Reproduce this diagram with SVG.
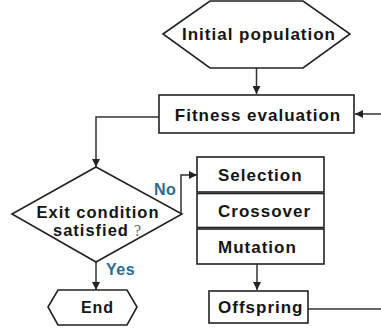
<svg xmlns="http://www.w3.org/2000/svg" width="381" height="330" viewBox="0 0 381 330">
<style>
.shape{fill:#fff;stroke:#222;stroke-width:1.6}
.lbl{font-family:"Liberation Sans",Arial,sans-serif;font-weight:bold;fill:#151515;letter-spacing:1px}
.conn{fill:none;stroke:#333;stroke-width:1.5}
.yn{font-family:"Liberation Sans",Arial,sans-serif;font-weight:bold;fill:#2a6c92;font-size:16px;letter-spacing:0.5px}
</style>
<defs>
<marker id="ah" viewBox="0 0 8 8" refX="8" refY="4" markerWidth="8" markerHeight="8" markerUnits="userSpaceOnUse" orient="auto">
<path d="M0,0 L8,4 L0,8 z" fill="#222"/>
</marker>
</defs>
<rect width="381" height="330" fill="#fff"/>
<g id="connectors">
<path class="conn" d="M256.5,68 V94" marker-end="url(#ah)"/>
<path class="conn" d="M381,114 H355" marker-end="url(#ah)"/>
<path class="conn" d="M159,117 H96 V167" marker-end="url(#ah)"/>
<path class="conn" d="M181,214 V175 H197" marker-end="url(#ah)"/>
<path class="conn" d="M96,262 V290" marker-end="url(#ah)"/>
<path class="conn" d="M257,264 V290" marker-end="url(#ah)"/>
<path class="conn" d="M308,309 H381"/>
</g>
<g id="initial">
<polygon class="shape" points="163,34 210,1 303,1 350,34 303,68 210,68"/>
<text class="lbl" x="259" y="40" font-size="17" text-anchor="middle">Initial population</text>
</g>
<g id="fitness">
<rect class="shape" x="159" y="95" width="195" height="38"/>
<text class="lbl" x="258" y="121" font-size="17" text-anchor="middle">Fitness evaluation</text>
</g>
<g id="exit">
<polygon class="shape" points="96,167 182,214 96,262 12,214"/>
<text class="lbl" x="98" y="218" font-size="16.5" text-anchor="middle">Exit condition</text>
<text class="lbl" x="53" y="236" font-size="16.5">satisfied<tspan font-weight="normal" fill="#666" font-family="'Liberation Serif',serif" font-size="16"> ?</tspan></text>
</g>
<g id="no"><text class="yn" x="154" y="195">No</text></g>
<g id="yes"><text class="yn" x="106" y="275">Yes</text></g>
<g id="selection">
<rect class="shape" x="197" y="157" width="127" height="35"/>
<text class="lbl" x="218" y="181" font-size="17">Selection</text>
</g>
<g id="crossover">
<rect class="shape" x="197" y="193.5" width="127" height="34"/>
<text class="lbl" x="218" y="217" font-size="17">Crossover</text>
</g>
<g id="mutation">
<rect class="shape" x="197" y="229" width="127" height="35"/>
<text class="lbl" x="218" y="253" font-size="17">Mutation</text>
</g>
<g id="offspring">
<rect class="shape" x="209" y="291" width="99" height="32"/>
<text class="lbl" x="218" y="313" font-size="17">Offspring</text>
</g>
<g id="end">
<polygon class="shape" points="48,307 58,290 127,290 137,307 127,325 58,325"/>
<text class="lbl" x="97.5" y="313" font-size="16" text-anchor="middle">End</text>
</g>
</svg>
